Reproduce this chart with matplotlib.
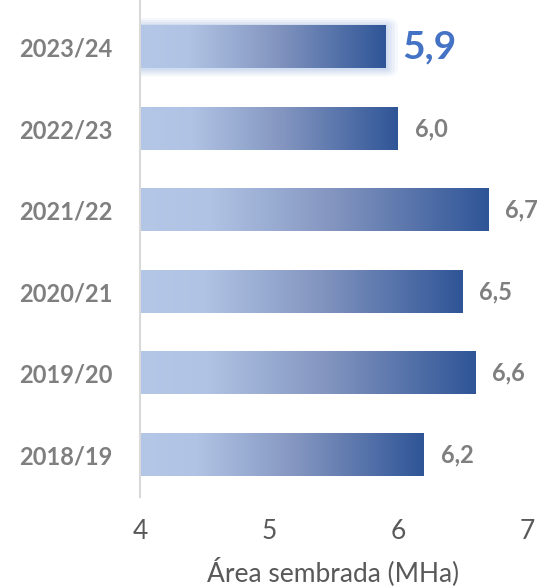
import numpy as np
import matplotlib.pyplot as plt
from matplotlib.colors import LinearSegmentedColormap
from matplotlib.patches import FancyBboxPatch

# data
seasons = ["2018/19", "2019/20", "2020/21", "2021/22", "2022/23", "2023/24"]
area = [6.2, 6.6, 6.5, 6.7, 6.0, 5.9]
labels = ["6,2", "6,6", "6,5", "6,7", "6,0", "5,9"]
x_ticks = [4, 5, 6, 7]

plt.rcParams['font.family'] = ['Lato', 'DejaVu Sans']

grad = LinearSegmentedColormap.from_list(
    "bar", [(0.0, "#B4C7E7"), (0.2, "#B0C3E4"), (0.55, "#8496C0"), (1.0, "#2F5597")])

fig = plt.figure(figsize=(5.42, 5.88), dpi=100)
ax = fig.add_axes([140 / 542, 91 / 588, 387 / 542, 497 / 588])

x0 = 4
h = 0.52
gradient = np.linspace(0, 1, 256).reshape(1, -1)
for i, (v, lab) in enumerate(zip(area, labels)):
    last = i == len(area) - 1
    if last:
        # soft glow behind the highlighted bar
        for k, a in zip([0.10, 0.075, 0.05, 0.025], [0.12, 0.17, 0.22, 0.32]):
            glow = FancyBboxPatch((x0, i - h / 2), v - x0, h,
                                  boxstyle=f"round,pad={k},rounding_size={k}",
                                  mutation_aspect=1.0, fc="#B4C7E7", ec="none",
                                  alpha=a, zorder=1)
            ax.add_patch(glow)
    ax.imshow(gradient, cmap=grad, aspect='auto', interpolation='bicubic',
              extent=[x0, v, i - h / 2, i + h / 2], zorder=2)
    if last:
        ax.text(v + 0.13, i, lab, va='center', ha='left', fontsize=28,
                fontweight='bold', color="#4472C4")
    else:
        ax.text(v + 0.13, i, lab, va='center', ha='left', fontsize=17,
                fontweight='bold', color="#7F7F7F")

ax.set_xlim(4, 7)
ax.set_ylim(-0.52, 5.58)
ax.set_xticks(x_ticks)
ax.set_xticklabels([str(t) for t in x_ticks], fontsize=19, color="#595959")
ax.set_yticks(range(len(seasons)))
ax.set_yticklabels(seasons, fontsize=17, fontweight='bold', color="#7F7F7F")
ax.tick_params(axis='both', length=0)
ax.tick_params(axis='y', pad=20)
ax.tick_params(axis='x', pad=16)
ax.set_xlabel("Área sembrada (MHa)", fontsize=19, color="#595959", labelpad=9)

for s in ['top', 'right', 'bottom']:
    ax.spines[s].set_visible(False)
ax.spines['left'].set_color("#D9D9D9")
ax.spines['left'].set_linewidth(1.5)
ax.set_facecolor('none')

fig.savefig("out.png", dpi=100)
